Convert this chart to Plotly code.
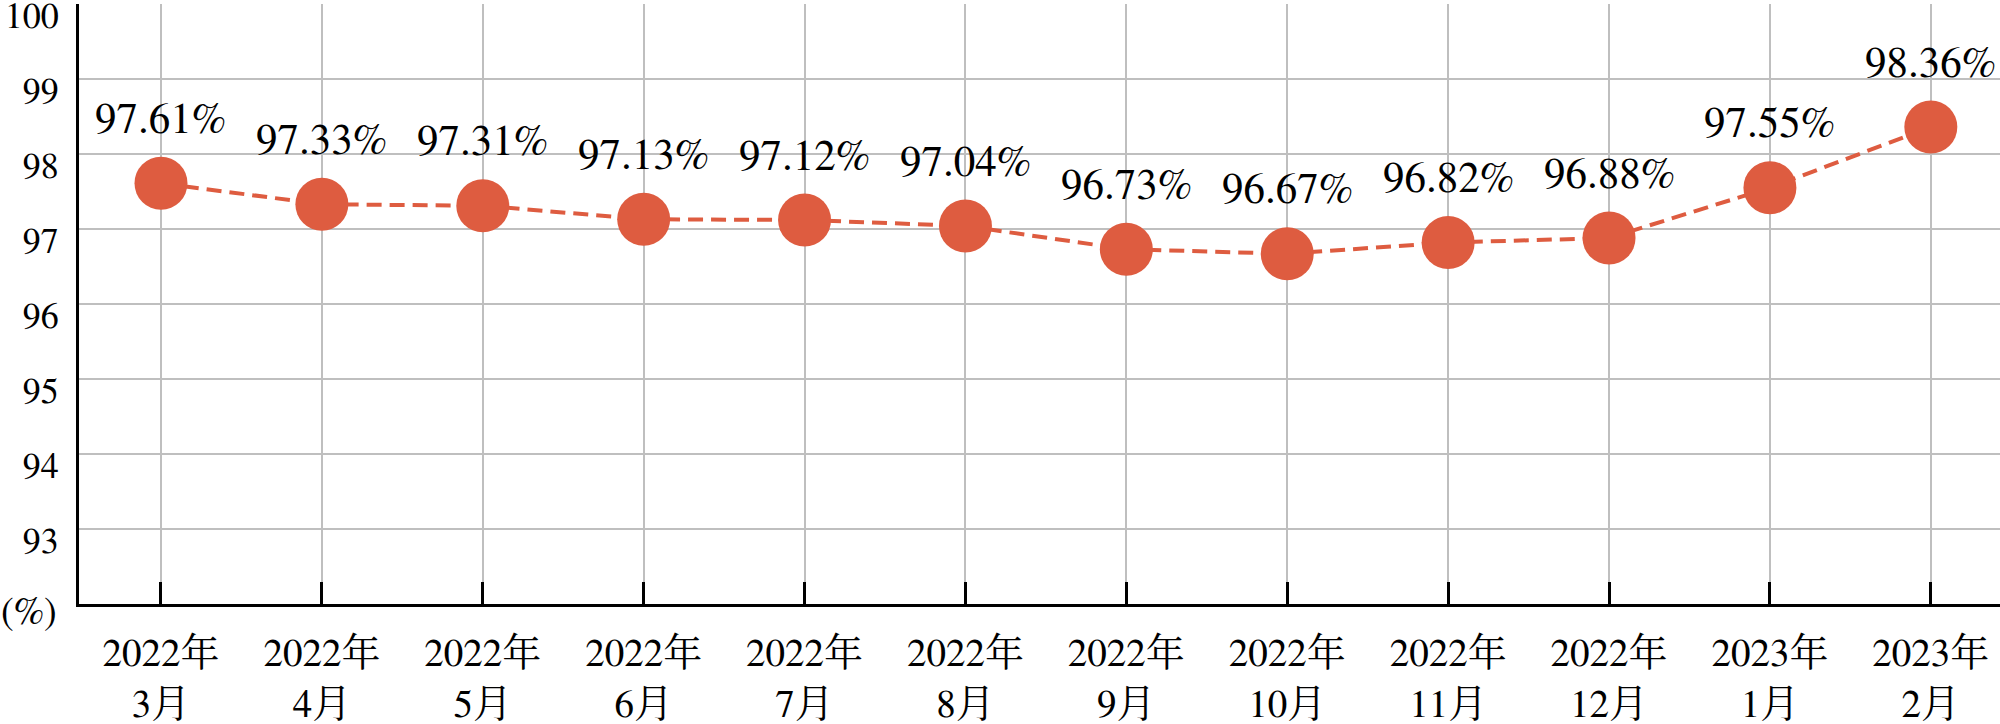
import plotly.graph_objects as go

categories = ["2022年<br>3月", "2022年<br>4月", "2022年<br>5月", "2022年<br>6月",
              "2022年<br>7月", "2022年<br>8月", "2022年<br>9月", "2022年<br>10月",
              "2022年<br>11月", "2022年<br>12月", "2023年<br>1月", "2023年<br>2月"]
values = [97.61, 97.33, 97.31, 97.13, 97.12, 97.04, 96.73, 96.67, 96.82, 96.88, 97.55, 98.36]
labels = ["97.61%", "97.33%", "97.31%", "97.13%", "97.12%", "97.04%",
          "96.73%", "96.67%", "96.82%", "96.88%", "97.55%", "98.36%"]
y_ticks = [93, 94, 95, 96, 97, 98, 99, 100]

COLOR = "#DE5C40"
FONT = "FreeSerif, Noto Serif CJK JP, DejaVu Serif, serif"

fig = go.Figure()
fig.add_trace(go.Scatter(
    x=categories, y=values, mode="lines+markers",
    line=dict(color=COLOR, width=4, dash="15px,8px"),
    marker=dict(color=COLOR, size=53, line=dict(width=0)),
    hoverinfo="skip", showlegend=False,
))

for c, v, t in zip(categories, values, labels):
    fig.add_annotation(x=c, y=v, text=t, showarrow=False, yshift=63,
                       xanchor="center", yanchor="middle",
                       font=dict(family=FONT, size=43, color="black"))

fig.add_annotation(xref="paper", yref="paper", x=0, y=0, xshift=-80, yshift=-9,
                   xanchor="left", yanchor="middle", text="(%)", showarrow=False,
                   font=dict(family=FONT, size=38, color="black"))

fig.update_layout(
    width=2000, height=724,
    margin=dict(l=79, r=0, t=4, b=120, autoexpand=False),
    plot_bgcolor="white", paper_bgcolor="white",
    font=dict(family=FONT, color="black"),
)
fig.update_xaxes(
    type="category", range=[-0.5096, 11.43], automargin=False,
    showgrid=True, gridcolor="#BFBFBF", gridwidth=2,
    showline=True, linecolor="black", linewidth=3,
    ticks="inside", ticklen=22, tickwidth=3, tickcolor="black",
    tickfont=dict(family=FONT, size=39, color="black"),
    ticklabelstandoff=12,
)
fig.update_yaxes(
    range=[92, 100], tickvals=y_ticks, automargin=False,
    showgrid=True, gridcolor="#BFBFBF", gridwidth=2,
    showline=True, linecolor="black", linewidth=3,
    ticks="", zeroline=False, ticklabeloverflow="allow",
    tickfont=dict(family=FONT, size=36, color="black"),
    ticklabelstandoff=10, ticklabelshift=11,
)

fig.write_html("out.html", config={"displayModeBar": False},
               post_script="document.body.style.margin='0';")
